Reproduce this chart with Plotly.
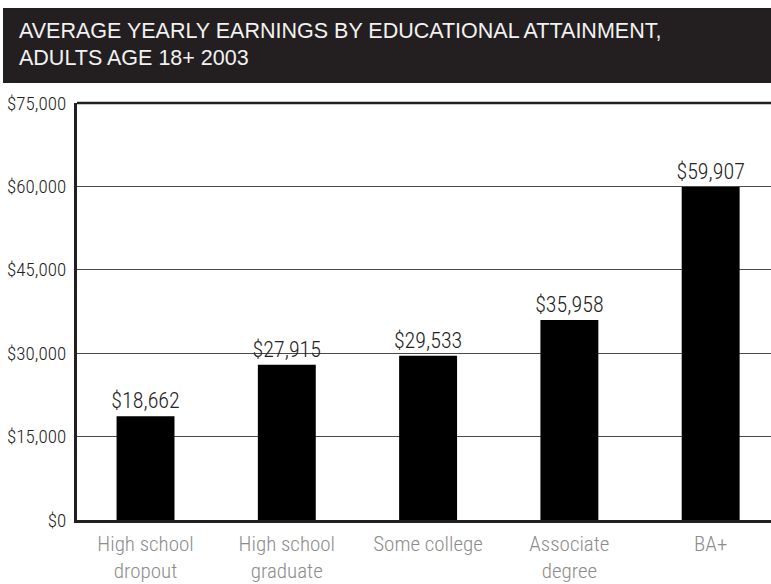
import plotly.graph_objects as go

# Average yearly earnings by educational attainment, adults 18+, 2003
categories = ["High school<br>dropout", "High school<br>graduate", "Some college",
              "Associate<br>degree", "BA+"]
earnings = [18662, 27915, 29533, 35958, 59907]
tick_values = [0, 15000, 30000, 45000, 60000, 75000]
tick_labels = ["$0", "$15,000", "$30,000", "$45,000", "$60,000", "$75,000"]
title_lines = ["AVERAGE YEARLY EARNINGS BY EDUCATIONAL ATTAINMENT,",
               "ADULTS AGE 18+ 2003"]

W, H = 771, 584
ML, MR, MT, MB = 77, 0, 103, 64
plot_h = H - MT - MB
plot_w = W - ML - MR

NARROW = "Roboto Condensed, Liberation Sans Narrow, Arial Narrow, sans-serif"
SANS = "Liberation Sans, Arial, Helvetica, sans-serif"
INK = "#231f20"


def py(pixel_y):
    """Page pixel row -> paper y."""
    return (H - MB - pixel_y) / plot_h


def px(pixel_x):
    """Page pixel column -> paper x."""
    return (pixel_x - ML) / plot_w


fig = go.Figure()
fig.add_trace(go.Bar(
    x=categories,
    y=earnings,
    marker=dict(color="#000000", line=dict(width=0)),
    text=[f"${v:,}" for v in earnings],
    textposition="outside",
    constraintext="none",
    cliponaxis=False,
    textfont=dict(family=NARROW, size=22, color="#222222", weight=300),
    hoverinfo="skip",
))

shapes = [
    # dark title band
    dict(type="rect", xref="paper", yref="paper",
         x0=px(3), x1=px(W + 5), y0=py(83), y1=py(8),
         fillcolor=INK, line=dict(width=0), layer="above"),
    # top frame line
    dict(type="line", xref="paper", yref="paper",
         x0=0, x1=1, y0=1, y1=1,
         line=dict(color=INK, width=2.5), layer="above"),
]

annotations = []
for line, y_pix in zip(title_lines, [31.5, 58.0]):
    annotations.append(dict(
        text=line, xref="paper", yref="paper",
        x=px(17), y=py(y_pix), xanchor="left", yanchor="middle",
        showarrow=False,
        font=dict(family=SANS, size=21.5, color="#f2f2f2"),
    ))

fig.update_layout(
    width=W, height=H,
    margin=dict(l=ML, r=MR, t=MT, b=MB, pad=0),
    paper_bgcolor="white",
    plot_bgcolor="white",
    showlegend=False,
    bargap=0.59,
    shapes=shapes,
    annotations=annotations,
    xaxis=dict(
        range=[-0.485, 4.427],
        showgrid=False, automargin=False,
        showline=True, linecolor=INK, linewidth=2.5,
        ticks="", ticklabelstandoff=3,
        tickfont=dict(family=NARROW, size=21, color="#8c8c8c", weight=300),
        fixedrange=True,
    ),
    yaxis=dict(
        range=[0, 75000], automargin=False,
        tickvals=tick_values,
        ticktext=tick_labels,
        showgrid=True, gridcolor="#4a4a4a", gridwidth=1.2,
        zeroline=False,
        showline=True, linecolor=INK, linewidth=3,
        ticks="", ticklabelstandoff=4,
        tickfont=dict(family=NARROW, size=19, color="#222222", weight=300),
        fixedrange=True,
    ),
)

fig.write_html("out.html", config={"displayModeBar": False})
